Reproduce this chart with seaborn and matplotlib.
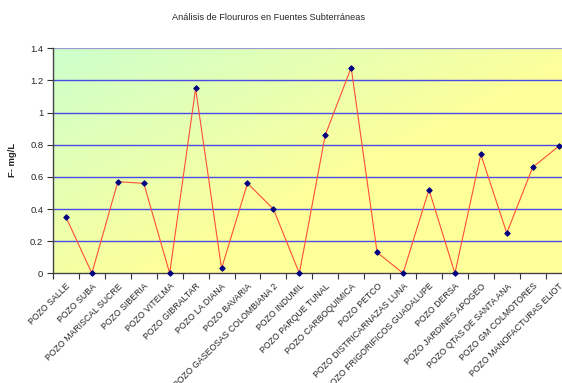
import numpy as np
import pandas as pd
import matplotlib
matplotlib.use("Agg")
import matplotlib.pyplot as plt
from matplotlib.colors import to_rgb
import seaborn as sns

pozos = [
    "POZO SALLE", "POZO SUBA", "POZO MARISCAL SUCRE", "POZO SIBERIA",
    "POZO VITELMA", "POZO GIBRALTAR", "POZO LA DIANA", "POZO BAVARIA",
    "POZO GASEOSAS COLOMBIANA 2", "POZO INDUMIL", "POZO PARQUE TUNAL",
    "POZO CARBOQUIMICA", "POZO PETCO", "POZO DISTRICARNAZAS LUNA",
    "POZO FRIGORIFICOS GUADALUPE", "POZO DERSA", "POZO JARDINES APOGEO",
    "POZO QTAS DE SANTA ANA", "POZO GM COLMOTORES", "POZO MANOFACTURAS ELIOT",
]
fluoruro = [0.35, 0.0, 0.57, 0.56, 0.0, 1.15, 0.03, 0.56, 0.40, 0.0,
            0.86, 1.28, 0.13, 0.0, 0.52, 0.0, 0.74, 0.25, 0.66, 0.79]
y_ticks = [0, 0.2, 0.4, 0.6, 0.8, 1, 1.2, 1.4]
y_tick_labels = ["0", "0.2", "0.4", "0.6", "0.8", "1", "1.2", "1.4"]

df = pd.DataFrame({"pos": np.arange(len(pozos)), "pozo": pozos, "F": fluoruro})

sns.set_theme(style="white")
plt.rcParams["font.family"] = ["Liberation Sans", "DejaVu Sans"]

W, H = 562, 383
fig = plt.figure(figsize=(W / 100, H / 100), dpi=100)
left, right, top, bottom = 53, 571.6, 48.3, 273.3
ax = fig.add_axes([left / W, (H - bottom) / H, (right - left) / W, (bottom - top) / H])

n = len(pozos)
xmin, xmax = -0.5, n - 0.5
ymin, ymax = 0, 1.4

# diagonal two-colour gradient for the plot area (green top-left, yellow bottom-right)
green = np.array(to_rgb("#ccffcc"))
yellow = np.array(to_rgb("#ffff99"))
gx, gy = np.meshgrid(np.linspace(0, 1, 300), np.linspace(0, 1, 200))
t = np.clip((gx * 1.15 + gy) / 1.25, 0, 1)[..., None]
grad = green * (1 - t) + yellow * t
ax.imshow(grad, extent=[xmin, xmax, ymin, ymax], origin="upper", aspect="auto",
          zorder=0, interpolation="bilinear")

# horizontal gridlines
for v in y_ticks[1:-1]:
    ax.axhline(v, color="#4a4ae6", lw=1.0, zorder=1)
ax.axhline(1.4, color="#9a9ad0", lw=1.6, zorder=1)

sns.lineplot(data=df, x="pos", y="F", ax=ax, color="#ff4f3a", lw=0.8,
             marker="D", markersize=2.8, markerfacecolor="#000080",
             markeredgecolor="#000080", zorder=3, clip_on=False)

ax.set_xlim(xmin, xmax)
ax.set_ylim(ymin, ymax)

ax.set_xticks(np.arange(n))
ax.set_xticklabels(pozos, rotation=45, ha="right", va="top",
                   rotation_mode="anchor", fontsize=6.3)
ax.set_xticks(np.arange(n + 1) - 0.5, minor=True)
ax.tick_params(axis="x", which="major", length=0, pad=6)
ax.tick_params(axis="x", which="minor", length=4, width=0.8, color="#333333",
               direction="out", bottom=True)

ax.set_yticks(y_ticks)
ax.set_yticklabels(y_tick_labels, fontsize=6.8)
ax.tick_params(axis="y", length=4, width=0.8, color="#333333", direction="out",
               left=True, pad=3)

for s in ["top", "right"]:
    ax.spines[s].set_visible(False)
for s in ["left", "bottom"]:
    ax.spines[s].set_color("#444444")
    ax.spines[s].set_linewidth(1.0)

ax.set_xlabel("")
ax.set_ylabel("")
fig.text(13 / W, 1 - 160 / H, "F- mg/L", rotation=90, fontsize=6.8,
         fontweight="bold", ha="center", va="center")
fig.text(268 / W, 1 - 18 / H, "Análisis de Floururos en Fuentes Subterráneas",
         fontsize=6.6, ha="center", va="center")

fig.savefig("out.png", dpi=100)
